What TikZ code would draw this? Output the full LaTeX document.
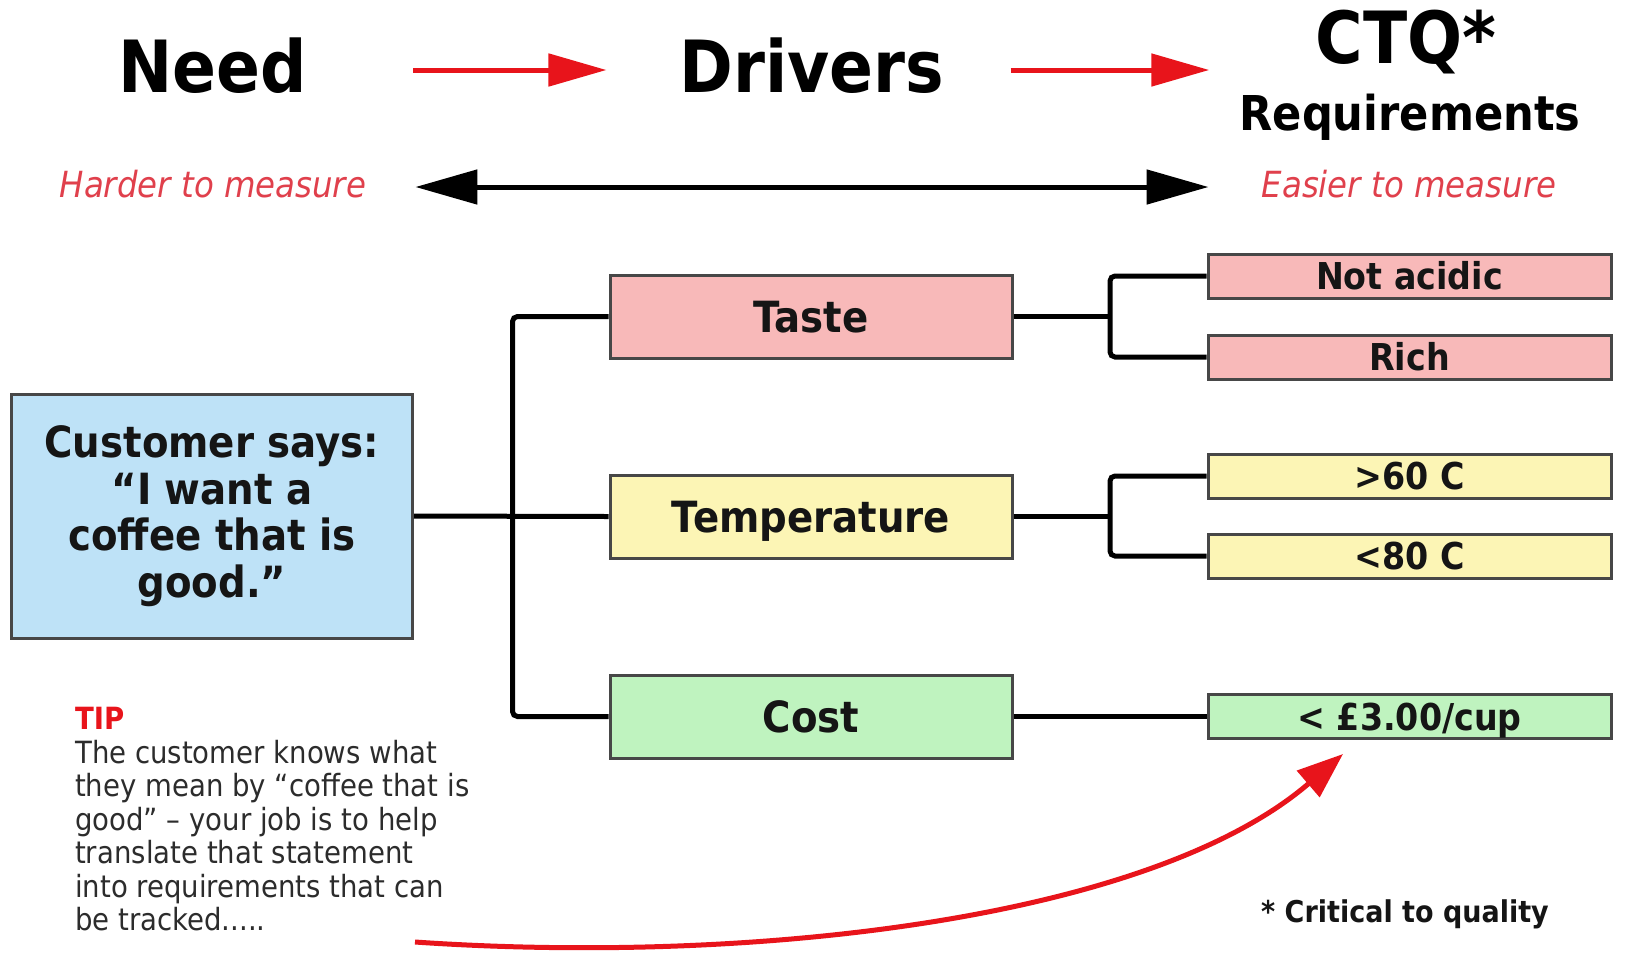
\documentclass[tikz,border=0pt]{standalone}
\usepackage{fontspec}
\setmainfont[FakeStretch=0.9]{DejaVu Sans}
\usetikzlibrary{arrows.meta}

\definecolor{tastefill}{HTML}{F8B9B9}
\definecolor{tempfill}{HTML}{FCF5B5}
\definecolor{costfill}{HTML}{BFF3BF}
\definecolor{custfill}{HTML}{BEE2F7}
\definecolor{boxline}{HTML}{474747}
\definecolor{arrowred}{HTML}{E8141B}
\definecolor{softred}{HTML}{E0404C}
\definecolor{ink}{HTML}{151515}
\definecolor{tipgrey}{HTML}{2C2C2C}

\begin{document}
\begin{tikzpicture}[x=1pt,y=-1pt,
  heading/.style={inner sep=0pt, anchor=base, text=black, font=\fontsize{72}{80}\selectfont\bfseries},
  subheading/.style={inner sep=0pt, anchor=base, text=black, font=\fontsize{48}{52}\selectfont\bfseries},
  measure/.style={inner sep=0pt, anchor=base, text=softred, font=\fontsize{36}{40}\selectfont\itshape},
  box/.style={draw=boxline, line width=3pt, inner sep=0pt, text=ink},
  driver/.style={box, minimum width=402pt, minimum height=83pt,
    font=\fontsize{43}{46}\selectfont\bfseries, text height=31pt, text depth=0pt},
  ctqbox/.style={box, minimum width=403pt, minimum height=44pt,
    font=\fontsize{37}{40}\selectfont\bfseries, text height=27pt, text depth=0pt},
  branch/.style={draw=black, line width=5pt, rounded corners=5pt},
  redarrow/.style={draw=arrowred, line width=5pt, -{Triangle[length=58pt,width=32pt]}},
  blackarrow/.style={draw=black, line width=5pt,
    {Triangle[length=62pt,width=34pt]}-{Triangle[length=62pt,width=34pt]}},
]
\useasboundingbox[fill=white] (0,0) rectangle (1627,954);

% column headings
\node[heading] (need) at (213,92) {Need};
\node[heading] (drivers) at (812,92) {Drivers};
\node[heading] (ctq) at (1406,63) {CTQ*};
\node[subheading] (req) at (1410,130) {Requirements};
\coordinate (toprow) at (0,70);
\draw[redarrow, shorten <=106pt, shorten >=73pt] (need.east |- toprow) -- (drivers.west |- toprow);
\draw[redarrow, shorten <=66pt, shorten >=30pt] (drivers.east |- toprow) -- (req.west |- toprow);

% measurability scale
\node[measure] (harder) at (213,197) {Harder to measure};
\node[measure] (easier) at (1409,197) {Easier to measure};
\coordinate (midrow) at (0,187);
\draw[blackarrow, shorten <=49pt, shorten >=53pt] (harder.east |- midrow) -- (easier.west |- midrow);

% need
\node[box, fill=custfill, minimum width=401pt, minimum height=244pt, align=center,
  font=\fontsize{43}{46.5}\selectfont\bfseries] (cust) at (212,516)
  {Customer says:\\“I want a\\coffee that is\\good.”};

% drivers
\node[driver, fill=tastefill] (taste) at (811,316.5) {Taste};
\node[driver, fill=tempfill] (temp) at (811,516.5) {Temperature};
\node[driver, fill=costfill] (cost) at (811,716.5) {Cost};

% requirements
\node[ctqbox, fill=tastefill] (notacidic) at (1409.5,276) {Not acidic};
\node[ctqbox, fill=tastefill] (rich) at (1409.5,357) {Rich};
\node[ctqbox, fill=tempfill] (hot) at (1409.5,476) {>60 C};
\node[ctqbox, fill=tempfill] (cool) at (1409.5,556) {<80 C};
\node[ctqbox, fill=costfill] (price) at (1409.5,716.5) {< £3.00/cup};

% tree connectors
\coordinate (trunk) at (512.5,516.5);
\draw[branch] (cust.east) -- (temp.west);
\draw[branch] (taste.west) -| (trunk) |- (cost.west);
\coordinate (tastesplit) at (1110,316.5);
\coordinate (tempsplit) at (1110,516.5);
\draw[branch] (taste.east) -- (tastesplit);
\draw[branch] (notacidic.west) -| (tastesplit) |- (rich.west);
\draw[branch] (temp.east) -- (tempsplit);
\draw[branch] (hot.west) -| (tempsplit) |- (cool.west);
\draw[branch] (cost.east) -- (price.west);

% tip
\node[inner sep=0pt, anchor=north west, align=left, text=tipgrey,
  font=\fontsize{30.6}{33.5}\selectfont] (tip) at (75,707)
  {{\color{arrowred}\bfseries TIP}\\
   The customer knows what\\
   they mean by “coffee that is\\
   good” – your job is to help\\
   translate that statement\\
   into requirements that can\\
   be tracked.....};
\coordinate (curvestart) at (415,942);
\coordinate (curveend) at (1343,754);
\draw[draw=arrowred, line width=5pt, -{Triangle[length=46pt,width=34pt]}]
  (curvestart) .. controls (750,965) and (1150,920) .. (curveend);

% footnote
\node[inner sep=0pt, anchor=base, text=ink, font=\fontsize{30}{33}\selectfont\bfseries]
  (footnote) at (1405,922) {* Critical to quality};
\end{tikzpicture}
\end{document}
